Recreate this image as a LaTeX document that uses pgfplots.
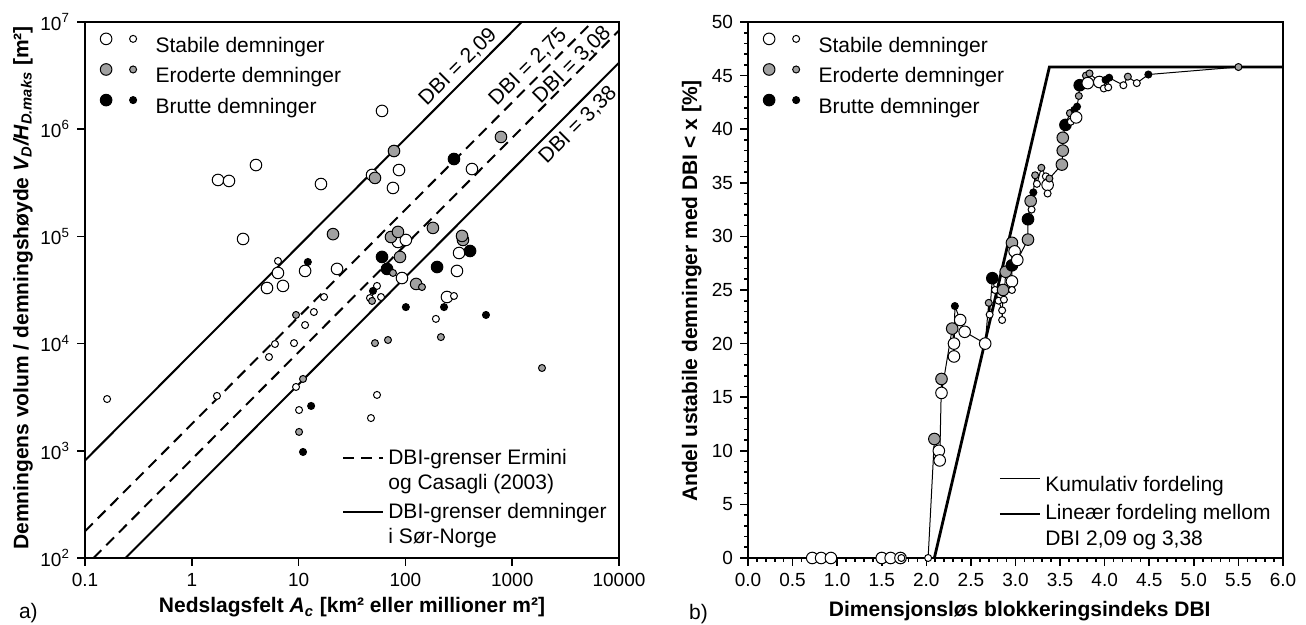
\documentclass[border=0pt]{standalone}
\usepackage{fontspec}
\setmainfont{Liberation Sans}
\usepackage{pgfplots}
\usepackage{pgfplotstable}
\pgfplotsset{compat=1.18}

\definecolor{erodert}{RGB}{160,160,160}
\newcommand{\ticksize}{\fontsize{9.5}{11}\selectfont}
\newcommand{\textsz}{\fontsize{10.5}{12.8}\selectfont}

% ---------- a) catchment area vs. dam volume / dam height ----------
% stable dams, large and small symbols
\pgfplotstableread{
x y
1.76 3.36e5
2.23 3.29e5
3.99 4.63e5
16.2 3.08e5
3.02 9.46e4
6.41 4.56e4
5.06 3.30e4
7.14 3.45e4
11.5 4.76e4
22.9 4.97e4
60.4 1.48e6
87.1 4.16e5
48.7 3.74e5
76.5 2.83e5
420 4.25e5
85.2 8.87e4
101 9.26e4
318 7.0e4
304 4.76e4
92.9 4.09e4
245 2.72e4
}\stabbig
\pgfplotstableread{
x y
0.161 3.04e3
6.41 5.90e4
17.3 2.72e4
13.9 1.97e4
11.5 1.49e4
6.01 9.91e3
9.06 1.01e4
5.28 7.50e3
1.72 3.25e3
9.46 3.94e3
10.1 2.40e3
54.2 3.45e4
46.6 2.66e4
59.1 2.72e4
285 2.78e4
193 1.70e4
54.2 3.32e3
47.6 2.02e3
}\stabsmall
% eroded dams
\pgfplotstableread{
x y
21.0 1.05e5
78.2 6.26e5
51.9 3.51e5
785 8.46e5
181 1.20e5
73.3 9.87e4
85.2 1.10e5
346 9.26e4
339 1.01e5
89.0 6.43e4
126 3.60e4
}\erobig
\pgfplotstableread{
x y
9.46 1.85e4
11.0 4.68e3
10.1 1.50e3
76.5 4.56e4
143 3.37e4
48.7 2.50e4
51.9 1.01e4
68.7 1.08e4
215 1.15e4
1901 5.92e3
}\erosmall
% breached dams
\pgfplotstableread{
x y
285 5.27e5
403 7.31e4
60.4 6.43e4
67.3 4.97e4
198 5.18e4
}\brubig
\pgfplotstableread{
x y
12.2 5.77e4
49.7 3.10e4
101 2.19e4
230 2.19e4
568 1.85e4
13.1 2.62e3
11.0 975
}\brusmall

% ---------- b) share of unstable dams with DBI < x ----------
\pgfplotstableread{
x y c
0.72 0 wb
0.82 0 wb
0.93 0 wb
1.50 0 wb
1.60 0 wb
1.71 0 wb
1.72 0 ws
2.02 0 ws
2.09 11.1 gb
2.14 10.0 wb
2.15 9.1 wb
2.17 16.7 gb
2.17 15.4 wb
2.29 21.4 gb
2.31 20.0 wb
2.31 18.8 wb
2.32 23.5 bs
2.38 22.2 wb
2.43 21.1 wb
2.66 20.0 wb
2.70 23.8 gs
2.71 22.7 ws
2.74 26.1 bb
2.77 25.0 ws
2.81 24.0 ws
2.85 23.1 ws
2.85 22.2 ws
2.86 25.0 gb
2.87 24.1 ws
2.89 26.7 gb
2.96 25.8 wb
2.96 25.0 ws
2.96 27.3 bb
2.96 29.4 gb
2.99 28.6 wb
3.02 27.8 wb
3.14 29.7 gb
3.14 31.6 bb
3.17 33.3 gb
3.18 32.5 ws
3.20 34.1 bs
3.22 35.7 gs
3.24 34.9 ws
3.29 36.4 gs
3.34 35.6 ws
3.36 34.8 wb
3.36 34.0 ws
3.38 35.4 gs
3.52 36.7 gb
3.53 38.0 gb
3.53 39.2 gb
3.56 40.4 bb
3.61 41.5 gs
3.62 40.7 ws
3.66 41.8 bs
3.68 41.1 wb
3.69 42.1 bs
3.71 43.1 gs
3.72 44.1 bb
3.79 45.0 gs
3.81 44.3 wb
3.83 45.2 gs
3.94 44.4 wb
3.99 43.8 ws
4.01 44.6 bs
4.04 43.9 ws
4.05 44.8 bs
4.21 44.1 ws
4.26 44.9 gs
4.36 44.3 ws
4.49 45.1 bs
5.50 45.8 gs
}\cumdata

\pgfplotsset{
  damframe/.style={
    scale only axis, height=268pt,
    axis line style={line width=1pt},
    tick pos=left, tick align=outside,
    major tick length=4pt, minor tick length=2pt,
    every tick/.style={line width=0.8pt, black},
    ticklabel style={font=\ticksize},
    label style={font=\textsz\bfseries},
    /pgf/number format/assume math mode=true,
    clip=false,
  },
  big/.style={only marks, mark=*, mark size=2.9pt,
    mark options={line width=0.5pt, draw=black, fill=#1}},
  small/.style={only marks, mark=*, mark size=1.75pt,
    mark options={line width=0.5pt, draw=black, fill=#1}},
  % legend symbol: one large and one small circle side by side
  pairlegend/.style={legend image code/.code={
    \draw[line width=0.5pt, fill=#1] (0pt,3.6pt) circle (2.9pt);
    \draw[line width=0.5pt, fill=#1] (13.5pt,3.6pt) circle (1.75pt);
    \path (22.5pt,3.6pt);}},
  linelegend/.style={legend image code/.code={
    \draw[##1] (0pt,#1) -- (20pt,#1);}},
  linelegend/.default=3.6pt,
  markerlegend/.style={
    legend style={at={(axis description cs:0.027,0.981)}, anchor=north west,
      draw=none, fill=none, font=\textsz, inner sep=0pt, row sep=2pt,
      nodes={inner sep=2pt, font=\textsz}},
    legend cell align=left},
  linekey/.style={
    legend style={at={(axis description cs:0.985,#1)}, anchor=south east,
      draw=none, fill=none, font=\textsz, inner sep=0pt, row sep=1pt,
      cells={align=left}, nodes={inner sep=2pt, font=\textsz}},
    legend cell align=left},
}

\begin{document}
\begin{tikzpicture}
\useasboundingbox (0,0) rectangle (653pt,312.5pt);

% ---- a) DBI limit lines ----
\begin{axis}[damframe, hide axis, width=267pt,
  at={(42.5pt,33.5pt)}, anchor=south west,
  xmode=log, ymode=log, xmin=0.1, xmax=10000, ymin=100, ymax=1e7,
  linekey=0.013]
\addplot[black, line width=1pt, dash pattern=on 5.5pt off 3.5pt, linelegend=6.3pt]
  coordinates {(0.1,177.8) (5623,1e7)};
\addlegendentry{DBI-grenser Ermini\\og Casagli (2003)}
\addplot[black, line width=1pt, dash pattern=on 5.5pt off 3.5pt, forget plot]
  coordinates {(0.1202,100) (10000,8.318e6)};
\addplot[black, line width=1pt, linelegend=6.3pt]
  coordinates {(0.1,812.8) (1230,1e7)};
\addlegendentry{DBI-grenser demninger\\i Sør-Norge}
\addplot[black, line width=1pt, forget plot]
  coordinates {(0.2399,100) (10000,4.169e6)};
\node[rotate=45, font=\textsz] at (axis cs:311,3.8e6) {DBI = 2,09};
\node[rotate=45, font=\textsz] at (axis cs:1406,3.8e6) {DBI = 2,75};
\node[rotate=45, font=\textsz] at (axis cs:3630,3.97e6) {DBI = 3,08};
\node[rotate=45, font=\textsz] at (axis cs:4132,1.09e6) {DBI = 3,38};
\end{axis}

% ---- a) dams ----
\begin{axis}[damframe, width=267pt,
  at={(42.5pt,33.5pt)}, anchor=south west,
  xmode=log, ymode=log, xmin=0.1, xmax=10000, ymin=100, ymax=1e7,
  xminorticks=false, yminorticks=false,
  xtick={0.1,1,10,100,1000,10000},
  xticklabels={0.1,1,10,100,1000,10000},
  ytick={1e2,1e3,1e4,1e5,1e6,1e7},
  yticklabels={10\textsuperscript{2},10\textsuperscript{3},10\textsuperscript{4},10\textsuperscript{5},10\textsuperscript{6},10\textsuperscript{7}},
  xlabel={Nedslagsfelt \textit{A\textsubscript{c}} [km² eller millioner m²]},
  ylabel={Demningens volum / demningshøyde \textit{V\textsubscript{D}/H\textsubscript{D.maks}} [m²]},
  xlabel style={at={(axis description cs:0.5,-0.1026)}, anchor=base},
  ylabel style={at={(axis description cs:-0.116,0.504)}, anchor=center},
  markerlegend]
\addlegendimage{pairlegend=white}
\addlegendentry{Stabile demninger}
\addlegendimage{pairlegend=erodert}
\addlegendentry{Eroderte demninger}
\addlegendimage{pairlegend=black}
\addlegendentry{Brutte demninger}
\addplot[big=white, forget plot] table {\stabbig};
\addplot[big=erodert, forget plot] table {\erobig};
\addplot[big=black, forget plot] table {\brubig};
\addplot[small=white, forget plot] table {\stabsmall};
\addplot[small=erodert, forget plot] table {\erosmall};
\addplot[small=black, forget plot] table {\brusmall};
\end{axis}

% ---- b) distribution lines ----
\begin{axis}[damframe, hide axis, width=267.5pt,
  at={(374pt,33.5pt)}, anchor=south west,
  xmin=0, xmax=6, ymin=0, ymax=50, linekey=0.0094]
\addplot[black, line width=0.5pt, linelegend] table[x=x, y=y] {\cumdata};
\addlegendentry{Kumulativ fordeling}
\addplot[black, line width=1.4pt, linelegend=6.3pt]
  coordinates {(2.09,0) (3.38,45.8) (6,45.8)};
\addlegendentry{Lineær fordeling mellom\\DBI 2,09 og 3,38}
\end{axis}

% ---- b) dams ----
\begin{axis}[damframe, width=267.5pt,
  at={(374pt,33.5pt)}, anchor=south west,
  xmin=0, xmax=6, ymin=0, ymax=50,
  xtick={0,0.5,...,6}, ytick={0,5,...,50},
  minor x tick num=4, minor y tick num=4,
  xticklabel style={/pgf/number format/.cd, fixed, fixed zerofill, precision=1},
  xlabel={Dimensjonsløs blokkeringsindeks DBI},
  ylabel={Andel ustabile demninger med DBI < x [\%]},
  xlabel style={at={(axis description cs:0.508,-0.110)}, anchor=base},
  ylabel style={at={(axis description cs:-0.105,0.498)}, anchor=center},
  markerlegend]
\addlegendimage{pairlegend=white}
\addlegendentry{Stabile demninger}
\addlegendimage{pairlegend=erodert}
\addlegendentry{Eroderte demninger}
\addlegendimage{pairlegend=black}
\addlegendentry{Brutte demninger}
\addplot[scatter, only marks, forget plot, scatter src=explicit symbolic,
  scatter/classes={
    wb={mark=*, mark size=2.9pt, fill=white, draw=black, line width=0.5pt},
    ws={mark=*, mark size=1.75pt, fill=white, draw=black, line width=0.5pt},
    gb={mark=*, mark size=2.9pt, fill=erodert, draw=black, line width=0.5pt},
    gs={mark=*, mark size=1.75pt, fill=erodert, draw=black, line width=0.5pt},
    bb={mark=*, mark size=2.9pt, fill=black, draw=black, line width=0.5pt},
    bs={mark=*, mark size=1.75pt, fill=black, draw=black, line width=0.5pt}}]
  table[x=x, y=y, meta=c] {\cumdata};
\end{axis}

\node[anchor=base west, font=\textsz] at (6pt,3pt) {a)};
\node[anchor=base west, font=\textsz] at (341pt,2.5pt) {b)};
\end{tikzpicture}
\end{document}
